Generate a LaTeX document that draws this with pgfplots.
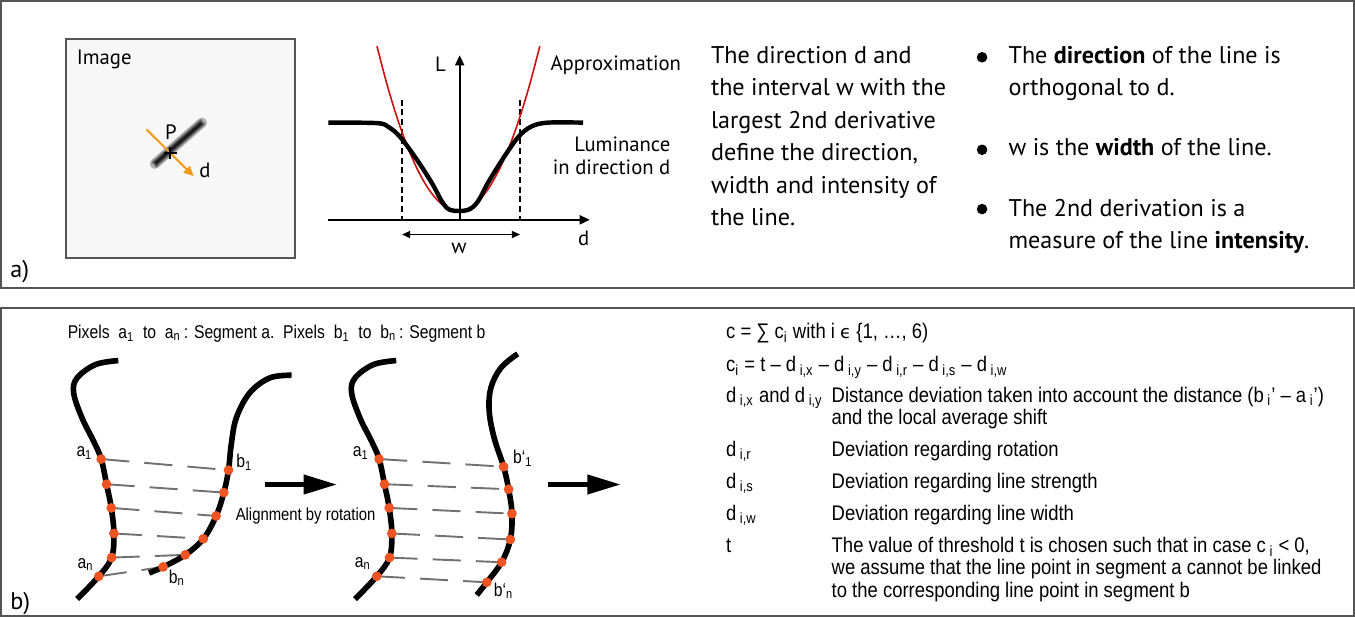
\documentclass[border=0pt]{standalone}
\usepackage{pgfplots}
\pgfplotsset{compat=1.18}
\usetikzlibrary{arrows.meta}
\usepackage{fontspec}
\setmainfont{PT Sans}
\newfontfamily\narrow[FakeStretch=0.85]{Liberation Sans}
\newfontfamily\narrowb[FakeStretch=0.875]{Liberation Sans}
\newfontfamily\dejavu{DejaVu Sans}
\definecolor{framegray}{HTML}{555555}
\definecolor{boxfill}{HTML}{F7F7F7}
\definecolor{dotorange}{HTML}{EE5522}
\definecolor{amber}{HTML}{F29A1C}
\definecolor{redline}{HTML}{CC1111}
\definecolor{dashgray}{HTML}{707070}
\tikzset{ft/.style={font=\narrowb\fontsize{10.5}{12}\selectfont, anchor=base west, inner sep=0pt}}
\pgfplotsset{dl/.style={line width=0.95pt, dashgray, dash pattern=on 14pt off 7.5pt}}
\begin{document}
\begin{tikzpicture}
\begin{axis}[
  scale only axis, width=677.5pt, height=309.5pt,
  xmin=0, xmax=1355, ymin=0, ymax=619, y dir=reverse,
  hide axis, clip=false,
]
% ---------- frames ----------
\addplot[draw=framegray, line width=1pt, line cap=rect] coordinates {(6,5)(1352,5)(1352,291)(6,291)(6,5)};
\addplot[draw=framegray, line width=1pt, line cap=rect] coordinates {(6,310)(1352,310)(1352,617)(6,617)(6,310)};
\node[font=\fontsize{12}{14}\selectfont, anchor=base west, inner sep=0pt] at (axis cs:15,280) {a)};
\node[font=\fontsize{12}{14}\selectfont, anchor=base west, inner sep=0pt] at (axis cs:15,610) {b)};
% ---------- image box ----------
\addplot[fill=boxfill, draw=framegray, line width=1pt, line cap=rect] coordinates {(70.7,42.7)(298,42.7)(298,261)(70.7,261)(70.7,42.7)};
\node[font=\fontsize{10.3}{12}\selectfont, anchor=base west, inner sep=0pt] at (axis cs:81,68) {Image};
\addplot[line width=5pt, color=black!30, line cap=round] coordinates {(159,167)(206,126)};
\addplot[line width=3.6pt, color=black!55] coordinates {(158,168)(207,125)};
\addplot[line width=2.2pt, color=black!78] coordinates {(159,167)(206,126)};
\addplot[line width=1pt, color=black!90] coordinates {(160,166)(205,127)};
\addplot[line width=1pt, color=amber, -{Triangle[length=5pt,width=4.5pt]}] coordinates {(150.7,132.7)(197.7,179.3)};
\addplot[line width=0.9pt, black] coordinates {(168,156)(181,156)};
\addplot[line width=0.9pt, black] coordinates {(174.3,150)(174.3,162)};
\node[font=\fontsize{10.3}{12}\selectfont, anchor=base, inner sep=0pt] at (axis cs:175,143) {P};
\node[font=\fontsize{10.3}{12}\selectfont, anchor=base, inner sep=0pt] at (axis cs:209,181) {d};
% ---------- luminance plot ----------
\addplot[line width=0.85pt, black, -{Triangle[length=5pt,width=4.5pt]}] coordinates {(331.7,222.7)(591.7,222.7)};
\addplot[line width=0.85pt, black, -{Triangle[length=5pt,width=4.5pt]}] coordinates {(462.3,222.7)(462.3,59)};
\addplot[line width=0.7pt, black, dash pattern=on 3pt off 1.8pt] coordinates {(405,103.3)(405,222.7)};
\addplot[line width=0.7pt, black, dash pattern=on 3pt off 1.8pt] coordinates {(522.3,103.3)(522.3,222.7)};
\addplot[line width=0.7pt, black, {Triangle[length=4pt,width=3.5pt]}-{Triangle[length=4pt,width=3.5pt]}] coordinates {(405,237.3)(522.3,237.3)};
\addplot[line width=0.8pt, redline, smooth] coordinates {
 (380,50)(390,88)(400,121)(410,149)(420,172)(430,190)(440,203)(450,211)(461,214)
 (472,211)(482,203)(492,190)(502,172)(512,149)(522,121)(532,88)(542,50)};
\addplot[line width=2.2pt, black, smooth, tension=0.55] coordinates {
 (331.7,126)(380,126.5)(391.7,130.5)(403.3,140.5)(420,163.3)(435,186.7)(445,205)(453.3,213)(470,213)(480,205)(490,186.7)(503.3,165)(520,141)(533.3,130)(550,126)(585,126)};
\node[font=\fontsize{10.3}{12}\selectfont, anchor=base, inner sep=0pt] at (axis cs:443.3,75) {L};
\node[font=\fontsize{10.3}{12}\selectfont, anchor=base, inner sep=0pt] at (axis cs:585.7,248) {d};
\node[font=\fontsize{10.3}{12}\selectfont, anchor=base, inner sep=0pt] at (axis cs:461.7,256) {w};
\node[font=\fontsize{10.3}{12}\selectfont, anchor=base west, inner sep=0pt] at (axis cs:552.3,74) {Approximation};
\node[font=\fontsize{10.3}{12}\selectfont, anchor=base east, inner sep=0pt] at (axis cs:672.3,155) {Luminance};
\node[font=\fontsize{10.3}{12}\selectfont, anchor=base east, inner sep=0pt] at (axis cs:672.3,178) {in direction d};
% ---------- text column 1 ----------
\node[font=\fontsize{12}{14}\selectfont, anchor=base west, inner sep=0pt] at (axis cs:712,67) {The direction d and};
\node[font=\fontsize{12}{14}\selectfont, anchor=base west, inner sep=0pt] at (axis cs:712,99.3) {the interval w with the};
\node[font=\fontsize{12}{14}\selectfont, anchor=base west, inner sep=0pt] at (axis cs:712,131.6) {largest 2nd derivative};
\node[font=\fontsize{12}{14}\selectfont, anchor=base west, inner sep=0pt] at (axis cs:712,164) {define the direction,};
\node[font=\fontsize{12}{14}\selectfont, anchor=base west, inner sep=0pt] at (axis cs:712,196.2) {width and intensity of};
\node[font=\fontsize{12}{14}\selectfont, anchor=base west, inner sep=0pt] at (axis cs:712,228.5) {the line.};
% ---------- bullets ----------
\addplot[only marks, mark=*, mark size=2.4pt, black] coordinates {(982,61)(982,153)(982,212)};
\node[font=\fontsize{12}{14}\selectfont, anchor=base west, inner sep=0pt] at (axis cs:1008,67) {The \textbf{direction} of the line is};
\node[font=\fontsize{12}{14}\selectfont, anchor=base west, inner sep=0pt] at (axis cs:1008,99.3) {orthogonal to d.};
\node[font=\fontsize{12}{14}\selectfont, anchor=base west, inner sep=0pt] at (axis cs:1008,159) {w is the \textbf{width} of the line.};
\node[font=\fontsize{12}{14}\selectfont, anchor=base west, inner sep=0pt] at (axis cs:1008,219) {The 2nd derivation is a};
\node[font=\fontsize{12}{14}\selectfont, anchor=base west, inner sep=0pt] at (axis cs:1008,251) {measure of the line \textbf{intensity}.};
% ---------- panel b: segments ----------
\node[font=\narrow\fontsize{9.2}{11}\selectfont, anchor=base west, inner sep=0pt] at (axis cs:72,341) {Pixels\ \ a\textsubscript{1}\ \ to\ \ a\textsubscript{n}\,: Segment a.\ \ Pixels\ \ b\textsubscript{1}\ \ to\ \ b\textsubscript{n}\,: Segment b};
% dashed links
\addplot[dl] coordinates {(105.7,460.7)(232.3,471.7)};
\addplot[dl] coordinates {(111,485.7)(227.7,494)};
\addplot[dl] coordinates {(115.7,509.3)(220,517.3)};
\addplot[dl] coordinates {(118.3,534.7)(207.3,540)};
\addplot[dl] coordinates {(116,558.7)(189.3,556)};
\addplot[dl] coordinates {(103.3,577.3)(167.3,568)};
\addplot[dl] coordinates {(382.2,460.7)(506,468.3)};
\addplot[dl] coordinates {(387.5,485.7)(511,490.7)};
\addplot[dl] coordinates {(392.2,509.3)(514.3,515)};
\addplot[dl] coordinates {(394.8,534.7)(512.7,540.7)};
\addplot[dl] coordinates {(392.5,558.7)(504,563.3)};
\addplot[dl] coordinates {(379.8,577.3)(489.3,583.3)};
% curves
\addplot[line width=2.8pt, black, smooth, tension=0.6] coordinates {
 (122.7,362.7)(100,366.7)(81.7,380)(78.3,395)(86.7,420)(98.3,443.3)(105.7,460.7)(111,485.7)(115.7,509.3)(118.3,534.7)(116,558.7)(103.3,577.3)(81.7,600)};
\addplot[line width=2.8pt, black, smooth, tension=0.6] coordinates {
 (295,377.3)(273.3,380)(253.3,395)(240,420)(235,446.7)(232.3,471.7)(227.7,494)(220,517.3)(207.3,540)(189.3,556)(167.3,568)(153.3,574)};
\addplot[line width=2.8pt, black, smooth, tension=0.6] coordinates {
 (399.2,362.7)(376.5,366.7)(358.2,380)(354.8,395)(363.2,420)(374.8,443.3)(382.2,460.7)(387.5,485.7)(392.2,509.3)(394.8,534.7)(392.5,558.7)(379.8,577.3)(358.2,600)};
\addplot[line width=2.8pt, black, smooth, tension=0.6] coordinates {
 (520,356)(503.3,370)(493.3,390)(491.7,413.3)(496.7,440)(506,468.3)(511,490.7)(514.3,515)(512.7,540.7)(504,563.3)(489.3,583.3)(479.3,596)};
% dots
\addplot[only marks, mark=*, mark size=2.2pt, draw=dotorange, fill=dotorange] coordinates {
 (105.7,460.7)(111,485.7)(115.7,509.3)(118.3,534.7)(116,558.7)(103.3,577.3)
 (232.3,471.7)(227.7,494)(220,517.3)(207.3,540)(189.3,556)(167.3,568)
 (382.2,460.7)(387.5,485.7)(392.2,509.3)(394.8,534.7)(392.5,558.7)(379.8,577.3)
 (506,468.3)(511,490.7)(514.3,515)(512.7,540.7)(504,563.3)(489.3,583.3)};
% labels
\node[font=\narrow\fontsize{9.2}{11}\selectfont, anchor=base, inner sep=0pt] at (axis cs:89,458) {a\textsubscript{1}};
\node[font=\narrow\fontsize{9.2}{11}\selectfont, anchor=base, inner sep=0pt] at (axis cs:248,469) {b\textsubscript{1}};
\node[font=\narrow\fontsize{9.2}{11}\selectfont, anchor=base, inner sep=0pt] at (axis cs:90,570) {a\textsubscript{n}};
\node[font=\narrow\fontsize{9.2}{11}\selectfont, anchor=base, inner sep=0pt] at (axis cs:181,584) {b\textsubscript{n}};
\node[font=\narrow\fontsize{9.2}{11}\selectfont, anchor=base, inner sep=0pt] at (axis cs:364,458) {a\textsubscript{1}};
\node[font=\narrow\fontsize{9.2}{11}\selectfont, anchor=base, inner sep=0pt] at (axis cs:366,569) {a\textsubscript{n}};
\node[font=\narrow\fontsize{9.2}{11}\selectfont, anchor=base, inner sep=0pt] at (axis cs:525,465) {b‘\textsubscript{1}};
\node[font=\narrow\fontsize{9.2}{11}\selectfont, anchor=base, inner sep=0pt] at (axis cs:506,597) {b‘\textsubscript{n}};
% arrows
\addplot[line width=2pt, black, -{Triangle[length=16.5pt,width=9.5pt]}] coordinates {(268.3,486)(340,486)};
\addplot[line width=2pt, black, -{Triangle[length=16.5pt,width=9.5pt]}] coordinates {(550,486)(622.3,486)};
\node[font=\narrow\fontsize{8.7}{11}\selectfont, anchor=base, inner sep=0pt] at (axis cs:309,522) {Alignment by rotation};
% ---------- panel b: formula text ----------
\node[ft] at (axis cs:727,341) {c = ∑ c\textsubscript{i} with i {\dejavu\fontsize{9}{11}\selectfont ϵ} \{1, …, 6)};
\node[ft] at (axis cs:727,374) {c\textsubscript{i} = t – d\,\textsubscript{i,x} – d\,\textsubscript{i,y} – d\,\textsubscript{i,r} – d\,\textsubscript{i,s} – d\,\textsubscript{i,w}};
\node[ft] at (axis cs:727,404) {d\,\textsubscript{i,x} and d\,\textsubscript{i,y}};
\node[ft] at (axis cs:832,404) {Distance deviation taken into account the distance (b\,\textsubscript{i}’ – a\,\textsubscript{i}’)};
\node[ft] at (axis cs:832,426) {and the local average shift};
\node[ft] at (axis cs:727,458) {d\,\textsubscript{i,r}};
\node[ft] at (axis cs:832,458) {Deviation regarding rotation};
\node[ft] at (axis cs:727,490) {d\,\textsubscript{i,s}};
\node[ft] at (axis cs:832,490) {Deviation regarding line strength};
\node[ft] at (axis cs:727,522) {d\,\textsubscript{i,w}};
\node[ft] at (axis cs:832,522) {Deviation regarding line width};
\node[ft] at (axis cs:727,554) {t};
\node[ft] at (axis cs:832,554) {The value of threshold t is chosen such that in case c\,\textsubscript{i} < 0,};
\node[ft] at (axis cs:832,576) {we assume that the line point in segment a cannot be linked};
\node[ft] at (axis cs:832,598) {to the corresponding line point in segment b};
\end{axis}
\end{tikzpicture}
\end{document}
